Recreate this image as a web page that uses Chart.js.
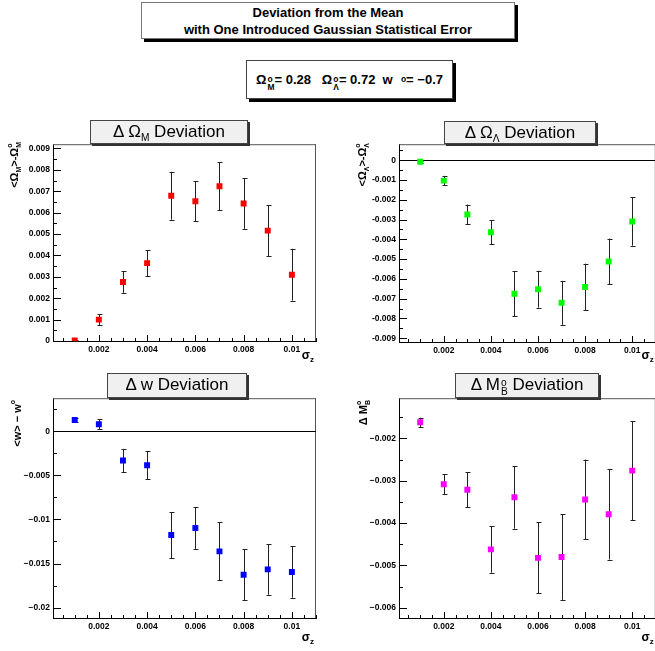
<!DOCTYPE html>
<html>
<head>
<meta charset="utf-8">
<script src="https://cdn.jsdelivr.net/npm/chart.js@4"></script>
<style>
  body { margin:0; width:655px; height:651px; overflow:hidden; position:relative; background:#fff;
         font-family:'Liberation Sans', Arial, sans-serif; }
  canvas { position:absolute; }
  .box { position:absolute; box-sizing:border-box; text-align:center; z-index:2; }
  .ptitle { background:#f0f0f0; border:1px solid #444; box-shadow:2px 2px 0 #333; font-size:17px; line-height:22px; }
  .stk { display:inline-block; vertical-align:-5px; font-size:0.6em; line-height:0.9; text-align:left; margin-left:1px; }
  .stk span { display:block; }
  .sb { font-size:0.6em; position:relative; top:0.35em; }
  #params .stk { font-size:0.65em; vertical-align:-6px; }
</style>
</head>
<body>
<canvas id="c1" width="330" height="230" style="left:0;top:140px"></canvas>
<canvas id="c2" width="330" height="230" style="left:330px;top:140px"></canvas>
<canvas id="c3" width="330" height="257" style="left:0;top:394px"></canvas>
<canvas id="c4" width="330" height="257" style="left:330px;top:394px"></canvas>

<div class="box" style="left:141px;top:2px;width:374px;height:37px;border:1px solid #777;box-shadow:3px 3px 0 #000;background:#fff;font-weight:bold;font-size:13px;line-height:17px;padding-top:1px">
  Deviation from the Mean<br>with One Introduced Gaussian Statistical Error</div>
<div id="params" class="box" style="left:246px;top:60px;width:207px;height:39px;border:1px solid #444;box-shadow:3px 3px 0 #000;background:#fff;font-weight:bold;font-size:13px;line-height:37px;white-space:nowrap">
  Ω<span class="stk"><span>o</span><span>M</span></span>= 0.28&nbsp;&nbsp; Ω<span class="stk"><span>o</span><span>Λ</span></span>= 0.72&nbsp; w&nbsp;&nbsp;<span class="stk"><span>o</span><span>&nbsp;</span></span>= −0.7</div>

<div class="box ptitle" style="left:90px;top:120px;width:158px;height:24px">Δ Ω<span class="sb">M</span> Deviation</div>
<div class="box ptitle" style="left:444px;top:121px;width:152px;height:23px">Δ Ω<span class="sb">Λ</span> Deviation</div>
<div class="box ptitle" style="left:107px;top:373px;width:140px;height:25px">Δ w Deviation</div>
<div class="box ptitle" style="left:455px;top:373px;width:144px;height:25px">Δ M<span class="stk"><span>o</span><span>B</span></span> Deviation</div>

<script>
// redshift error sigma_z
var sigmaZ = [0.001, 0.002, 0.003, 0.004, 0.005, 0.006, 0.007, 0.008, 0.009, 0.01];

// deviations and their errors
var omegaMDev = [0.00003, 0.0010, 0.00276, 0.00364, 0.00679, 0.00653, 0.00723, 0.00643, 0.00516, 0.0031];
var omegaMErr = [0.00004, 0.00025, 0.00051, 0.0006, 0.00112, 0.00093, 0.00112, 0.00118, 0.00119, 0.00121];
var omegaLDev = [-0.00008, -0.00103, -0.00274, -0.00364, -0.00675, -0.00652, -0.00721, -0.00641, -0.00512, -0.0031];
var omegaLErr = [0.00004, 0.00024, 0.0005, 0.00062, 0.00113, 0.00093, 0.00111, 0.00118, 0.00116, 0.00122];
var wDev = [0.00128, 0.00079, -0.00332, -0.00385, -0.01177, -0.01098, -0.01362, -0.01626, -0.01566, -0.01596];
var wErr = [0.0002, 0.00058, 0.00132, 0.00158, 0.0026, 0.00236, 0.0033, 0.00289, 0.00287, 0.0029];
var mbDev = [-0.00162, -0.00308, -0.00321, -0.00462, -0.00339, -0.00482, -0.0048, -0.00344, -0.00379, -0.00276];
var mbErr = [0.00011, 0.00024, 0.00041, 0.00055, 0.00074, 0.00084, 0.00101, 0.00094, 0.00107, 0.00117];

// tick values and labels
var xTicks = [0.002, 0.004, 0.006, 0.008, 0.01];
var xTickLabels = ['0.002', '0.004', '0.006', '0.008', '0.01'];
var omegaMTicks = [0, 0.001, 0.002, 0.003, 0.004, 0.005, 0.006, 0.007, 0.008, 0.009];
var omegaMTickLabels = ['0', '0.001', '0.002', '0.003', '0.004', '0.005', '0.006', '0.007', '0.008', '0.009'];
var omegaLTicks = [0, -0.001, -0.002, -0.003, -0.004, -0.005, -0.006, -0.007, -0.008, -0.009];
var omegaLTickLabels = ['0', '-0.001', '-0.002', '-0.003', '-0.004', '-0.005', '-0.006', '-0.007', '-0.008', '-0.009'];
var wTicks = [0, -0.005, -0.01, -0.015, -0.02];
var wTickLabels = ['0', '\u22120.005', '\u22120.01', '\u22120.015', '\u22120.02'];
var mbTicks = [-0.002, -0.003, -0.004, -0.005, -0.006];
var mbTickLabels = ['\u22120.002', '\u22120.003', '\u22120.004', '\u22120.005', '\u22120.006'];

Chart.defaults.font.family = "'Liberation Sans', Arial, sans-serif";
var tickFont = { size: 8.5, weight: 'bold' };

function fnt(size) { return 'bold ' + size + "px 'Liberation Sans', Arial, sans-serif"; }

// text with sub/superscripts, parts drawn one after another
function richWidth(ctx, parts) {
    var w = 0;
    parts.forEach(function(p) {
        ctx.font = fnt(p.f);
        if (p.sup !== undefined) w += Math.max(ctx.measureText(p.sup).width, ctx.measureText(p.sub).width);
        else w += ctx.measureText(p.t).width;
    });
    return w;
}
function drawRich(ctx, parts, x, y, rotate) {
    ctx.save();
    ctx.translate(x, y);
    if (rotate) ctx.rotate(-Math.PI / 2);
    var cx = -richWidth(ctx, parts);
    ctx.textAlign = 'left';
    ctx.textBaseline = 'alphabetic';
    ctx.fillStyle = '#000';
    parts.forEach(function(p) {
        ctx.font = fnt(p.f);
        if (p.sup !== undefined) {
            ctx.fillText(p.sup, cx, -6);
            ctx.fillText(p.sub, cx, 3);
            cx += Math.max(ctx.measureText(p.sup).width, ctx.measureText(p.sub).width);
        } else {
            ctx.fillText(p.t, cx, p.dy || 0);
            cx += ctx.measureText(p.t).width;
        }
    });
    ctx.restore();
}

// ROOT-like frame, inward ticks, error bars and axis titles
var rootStyle = {
    id: 'rootStyle',
    beforeDatasetsDraw: function(chart, args, o) {
        var ctx = chart.ctx, a = chart.chartArea, xs = chart.scales.x, ys = chart.scales.y;
        ctx.save();
        ctx.lineWidth = 1;
        ctx.strokeStyle = '#555';
        ctx.beginPath();
        ctx.moveTo(a.left, a.top + 0.5); ctx.lineTo(a.right, a.top + 0.5);
        ctx.moveTo(a.right - 0.5, a.top); ctx.lineTo(a.right - 0.5, a.bottom);
        ctx.stroke();

        ctx.strokeStyle = '#000';
        ctx.beginPath();
        if (o.zeroLine) {
            var y0 = Math.round(ys.getPixelForValue(0)) + 0.5;
            ctx.moveTo(a.left, y0); ctx.lineTo(a.right, y0);
        }
        // x ticks
        var k, p, len;
        for (k = Math.ceil(xs.min / 0.0005); k <= Math.floor(xs.max / 0.0005); k++) {
            p = Math.round(xs.getPixelForValue(k * 0.0005)) + 0.5;
            len = (k % 4 === 0) ? 6 : 3;
            ctx.moveTo(p, a.bottom); ctx.lineTo(p, a.bottom - len);
        }
        // y ticks
        var ratio = Math.round(o.yMajor / o.yMinor);
        for (k = Math.ceil(ys.min / o.yMinor - 1e-9); k <= Math.floor(ys.max / o.yMinor + 1e-9); k++) {
            p = Math.round(ys.getPixelForValue(k * o.yMinor)) + 0.5;
            len = (k % ratio === 0) ? 8 : 4;
            ctx.moveTo(a.left, p); ctx.lineTo(a.left + len, p);
        }
        ctx.stroke();

        // error bars
        ctx.strokeStyle = '#222';
        ctx.beginPath();
        chart.data.datasets[0].data.forEach(function(d, i) {
            var px = Math.round(xs.getPixelForValue(d.x)) + 0.5;
            var y1 = ys.getPixelForValue(d.y - o.errors[i]);
            var y2 = ys.getPixelForValue(d.y + o.errors[i]);
            ctx.moveTo(px, y1); ctx.lineTo(px, y2);
            ctx.moveTo(px - 2, Math.round(y1) + 0.5); ctx.lineTo(px + 3, Math.round(y1) + 0.5);
            ctx.moveTo(px - 2, Math.round(y2) + 0.5); ctx.lineTo(px + 3, Math.round(y2) + 0.5);
        });
        ctx.stroke();
        ctx.restore();
    },
    afterDraw: function(chart, args, o) {
        var ctx = chart.ctx, a = chart.chartArea;
        drawRich(ctx, o.yTitle, o.yTitleX, o.yTitleY, true);
        drawRich(ctx, [{ t: '\u03c3', f: 12 }, { t: 'z', f: 8, dy: 3 }], a.right - 2, o.xTitleY, false);
    }
};

function makePanel(id, cfg) {
    return new Chart(document.getElementById(id), {
        type: 'scatter',
        data: {
            datasets: [{
                data: sigmaZ.map(function(s, i) { return { x: s, y: cfg.values[i] }; }),
                pointStyle: 'rect',
                pointRadius: 4.2,
                backgroundColor: cfg.color,
                borderWidth: 0
            }]
        },
        options: {
            responsive: false,
            animation: false,
            events: [],
            layout: { padding: { top: cfg.padTop, right: cfg.padRight, left: 0, bottom: 0 } },
            plugins: {
                legend: { display: false },
                tooltip: { enabled: false },
                rootStyle: {
                    errors: cfg.errors, zeroLine: cfg.zeroLine, yMajor: cfg.yMajor, yMinor: cfg.yMinor,
                    yTitle: cfg.yTitle, yTitleX: cfg.yTitleX, yTitleY: cfg.yTitleY, xTitleY: cfg.xTitleY
                }
            },
            scales: {
                x: {
                    type: 'linear', min: 0.0001, max: 0.011,
                    grid: { display: false, drawTicks: false },
                    border: { display: true, color: '#000' },
                    afterBuildTicks: function(s) { s.ticks = xTicks.map(function(v) { return { value: v }; }); },
                    afterFit: function(s) { s.height = cfg.xAxisH; s.paddingLeft = 0; s.paddingRight = 0; },
                    ticks: { autoSkip: false, maxRotation: 0, padding: 4, color: '#000', font: tickFont,
                             callback: function(v, i) { return xTickLabels[i]; } }
                },
                y: {
                    type: 'linear', min: cfg.yMin, max: cfg.yMax,
                    grid: { display: false, drawTicks: false },
                    border: { display: true, color: '#000' },
                    afterBuildTicks: function(s) { s.ticks = cfg.yTicks.map(function(v) { return { value: v }; }); },
                    afterFit: function(s) { s.width = cfg.yAxisW; s.paddingTop = 0; s.paddingBottom = 0; },
                    ticks: { autoSkip: false, padding: 3, color: '#000', font: tickFont,
                             callback: function(v, i) { return cfg.yTickLabels[i]; } }
                }
            }
        },
        plugins: [rootStyle]
    });
}

makePanel('c1', {
    values: omegaMDev, errors: omegaMErr, color: '#ff0000',
    yMin: 0, yMax: 0.0092, yTicks: omegaMTicks, yTickLabels: omegaMTickLabels, yMajor: 0.001, yMinor: 0.0005,
    padTop: 4, padRight: 14, yAxisW: 53, xAxisH: 29, zeroLine: false,
    yTitle: [{ t: '<\u03a9', f: 11 }, { t: 'M', f: 7, dy: 3 }, { t: '>-\u03a9', f: 11 }, { sup: 'o', sub: 'M', f: 7 }],
    yTitleX: 18, yTitleY: 2, xTitleY: 219
});
makePanel('c2', {
    values: omegaLDev, errors: omegaLErr, color: '#00ff00',
    yMin: -0.00919, yMax: 0.00081, yTicks: omegaLTicks, yTickLabels: omegaLTickLabels, yMajor: 0.001, yMinor: 0.0005,
    padTop: 4, padRight: 0, yAxisW: 69, xAxisH: 28, zeroLine: true,
    yTitle: [{ t: '<\u03a9', f: 11 }, { t: '\u039b', f: 7, dy: 3 }, { t: '>-\u03a9', f: 11 }, { sup: 'o', sub: '\u039b', f: 7 }],
    yTitleX: 36, yTitleY: 3, xTitleY: 219
});
makePanel('c3', {
    values: wDev, errors: wErr, color: '#0000ff',
    yMin: -0.02117, yMax: 0.00374, yTicks: wTicks, yTickLabels: wTickLabels, yMajor: 0.005, yMinor: 0.0025,
    padTop: 4, padRight: 14, yAxisW: 53, xAxisH: 33, zeroLine: true,
    yTitle: [{ t: '<w> \u2212 w', f: 11 }, { t: 'o', f: 7, dy: -6 }],
    yTitleX: 21, yTitleY: 6, xTitleY: 247
});
makePanel('c4', {
    values: mbDev, errors: mbErr, color: '#ff00ff',
    yMin: -0.00624, yMax: -0.00105, yTicks: mbTicks, yTickLabels: mbTickLabels, yMajor: 0.001, yMinor: 0.0005,
    padTop: 4, padRight: 0, yAxisW: 69, xAxisH: 33, zeroLine: false,
    yTitle: [{ t: '\u0394 M', f: 11 }, { sup: 'o', sub: 'B', f: 7 }],
    yTitleX: 37, yTitleY: 6, xTitleY: 247
});
</script>
</body>
</html>
